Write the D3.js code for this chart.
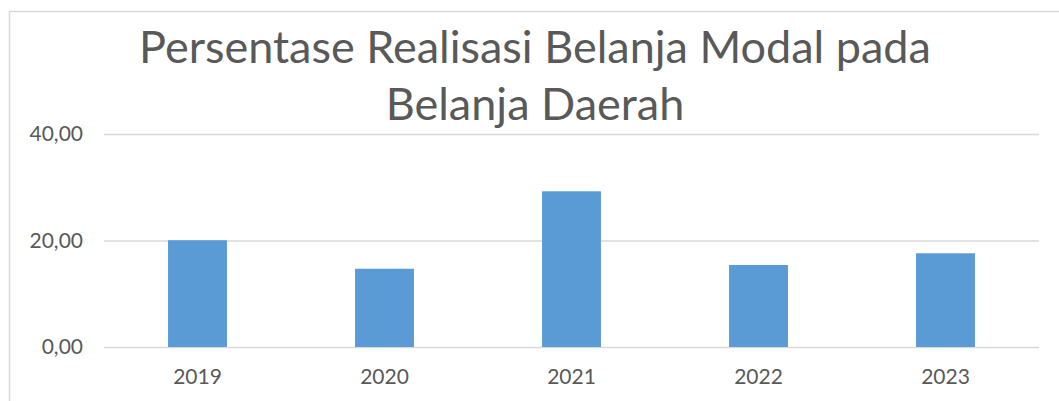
<!DOCTYPE html>
<html>
<head>
<meta charset="utf-8">
<script src="https://cdn.jsdelivr.net/npm/d3@7"></script>
<style>
  html, body { margin: 0; padding: 0; background: #fff; }
  svg { display: block; font-family: Lato, "Open Sans", sans-serif; }
</style>
</head>
<body>
<div id="chart"></div>
<script>
const years = ['2019', '2020', '2021', '2022', '2023'];
const values = [20.05, 14.7, 29.24, 15.4, 17.6];
const yTicks = [0, 20, 40];
const titleLines = ['Persentase Realisasi Belanja Modal pada', 'Belanja Daerah'];

const width = 1059;
const height = 401;
const margin = { left: 104, right: 20, top: 134, bottom: 54 };
const textColor = '#595959';
const gridColor = '#d9d9d9';

const svg = d3.select('#chart')
  .append('svg')
  .attr('width', width)
  .attr('height', height);

// chart-area frame (right and bottom edges fall outside the picture)
svg.append('rect')
  .attr('x', 9.5)
  .attr('y', 11.5)
  .attr('width', width + 20)
  .attr('height', height + 20)
  .attr('fill', 'none')
  .attr('stroke', gridColor)
  .attr('stroke-width', 1.5);

const x = d3.scaleBand()
  .domain(years)
  .range([margin.left, width - margin.right]);

const y = d3.scaleLinear()
  .domain([0, 40])
  .range([height - margin.bottom, margin.top]);

const fmt = v => d3.format('.2f')(v).replace('.', ',');

// gridlines + y labels
const yAxis = svg.append('g')
  .attr('transform', `translate(${margin.left},0)`)
  .call(d3.axisLeft(y).tickValues(yTicks).tickFormat(fmt)
    .tickSize(-(width - margin.left - margin.right)).tickPadding(21));
yAxis.select('.domain').remove();
yAxis.selectAll('line').attr('stroke', gridColor).attr('stroke-width', 1.3);
yAxis.selectAll('text')
  .attr('fill', textColor)
  .attr('font-size', '21px')
  .attr('font-family', 'Lato, sans-serif');

// bars, Excel style narrow columns
const barW = x.bandwidth() * 0.315;
svg.selectAll('.bar')
  .data(values)
  .enter()
  .append('rect')
  .attr('class', 'bar')
  .attr('x', (d, i) => x(years[i]) + (x.bandwidth() - barW) / 2)
  .attr('y', d => y(d))
  .attr('width', barW)
  .attr('height', d => y(0) - y(d))
  .attr('fill', '#5b9bd5');

// x labels
const xAxis = svg.append('g')
  .attr('transform', `translate(0,${y(0)})`)
  .call(d3.axisBottom(x).tickSize(0).tickPadding(22));
xAxis.select('.domain').remove();
xAxis.selectAll('text')
  .attr('fill', textColor)
  .attr('font-size', '21px')
  .attr('font-family', 'Lato, sans-serif');

// title
svg.append('text')
  .attr('text-anchor', 'middle')
  .attr('fill', textColor)
  .attr('font-size', '45px')
  .selectAll('tspan')
  .data(titleLines)
  .enter()
  .append('tspan')
  .attr('x', 535)
  .attr('y', (d, i) => 63 + i * 57)
  .text(d => d);
</script>
</body>
</html>
